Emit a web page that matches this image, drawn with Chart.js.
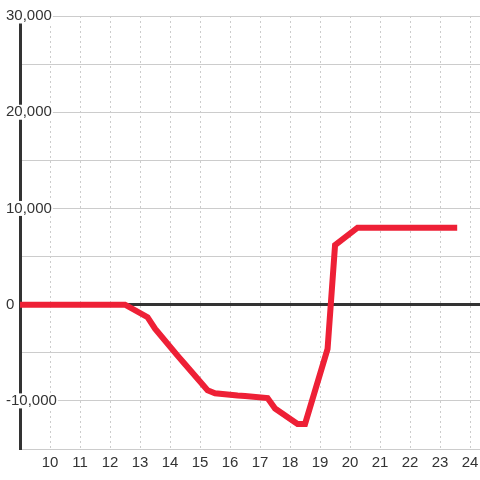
<!DOCTYPE html>
<html>
<head>
<meta charset="utf-8">
<script src="https://cdn.jsdelivr.net/npm/chart.js@4/dist/chart.umd.min.js"></script>
<style>
  html, body { margin: 0; padding: 0; background: #fff; }
  #wrap { width: 480px; height: 480px; }
</style>
</head>
<body>
<div id="wrap"><canvas id="c" width="480" height="480"></canvas></div>
<script>
// hours of the day and running total
const hours  = [9, 12.5, 13.25, 13.5, 14.25, 14.5, 15.25, 15.5, 16.25, 16.5, 17.25, 17.5, 18.25, 18.5, 19.25, 19.5, 20.25, 23.57];
const values = [0, 0, -1300, -2500, -5300, -6200, -8900, -9200, -9450, -9500, -9700, -10800, -12400, -12400, -4600, 6200, 8000, 8000];

const xTicks = [10, 11, 12, 13, 14, 15, 16, 17, 18, 19, 20, 21, 22, 23, 24];
const yLabels = [-10000, 0, 10000, 20000, 30000];

const ctx = document.getElementById('c');
const txt = '#333';

new Chart(ctx, {
  type: 'line',
  data: {
    datasets: [{
      data: hours.map((h, i) => ({ x: h, y: values[i] })),
      borderColor: '#ee2036',
      borderWidth: 6,
      pointRadius: 0,
      tension: 0,
      fill: false
    }]
  },
  options: {
    responsive: false,
    animation: false,
    layout: { padding: { left: 0, top: 16, right: 0, bottom: 3 } },
    plugins: { legend: { display: false }, tooltip: { enabled: false } },
    scales: {
      x: {
        type: 'linear',
        min: 9,
        max: 24.33,
        afterBuildTicks: axis => { axis.ticks = xTicks.map(v => ({ value: v })); },
        afterFit: axis => { axis.paddingLeft = 0; axis.paddingRight = 0; },
        grid: { color: '#ccc', lineWidth: 1, drawTicks: false },
        border: { display: false, dash: [2, 3] },
        ticks: {
          color: txt,
          font: { family: 'Liberation Sans, Arial', size: 15 },
          padding: 5,
          maxRotation: 0
        }
      },
      y: {
        min: -15000,
        max: 30000,
        afterFit: axis => { axis.width = 20; },
        ticks: {
          stepSize: 5000,
          mirror: true,
          padding: -14,
          color: txt,
          font: { family: 'Liberation Sans, Arial', size: 15, lineHeight: 1 },
          callback: v => yLabels.includes(v) ? v.toLocaleString('en-US') : '',
          showLabelBackdrop: c => yLabels.includes(c.tick.value),
          backdropColor: '#fff',
          backdropPadding: { top: 0, bottom: 0, left: 0, right: 1 }
        },
        grid: {
          drawTicks: false,
          color: c => c.tick && c.tick.value === 0 ? '#333' : '#ccc',
          lineWidth: c => c.tick && c.tick.value === 0 ? 3 : 1
        },
        border: { display: true, color: '#333', width: 3 }
      }
    }
  }
});
</script>
</body>
</html>
